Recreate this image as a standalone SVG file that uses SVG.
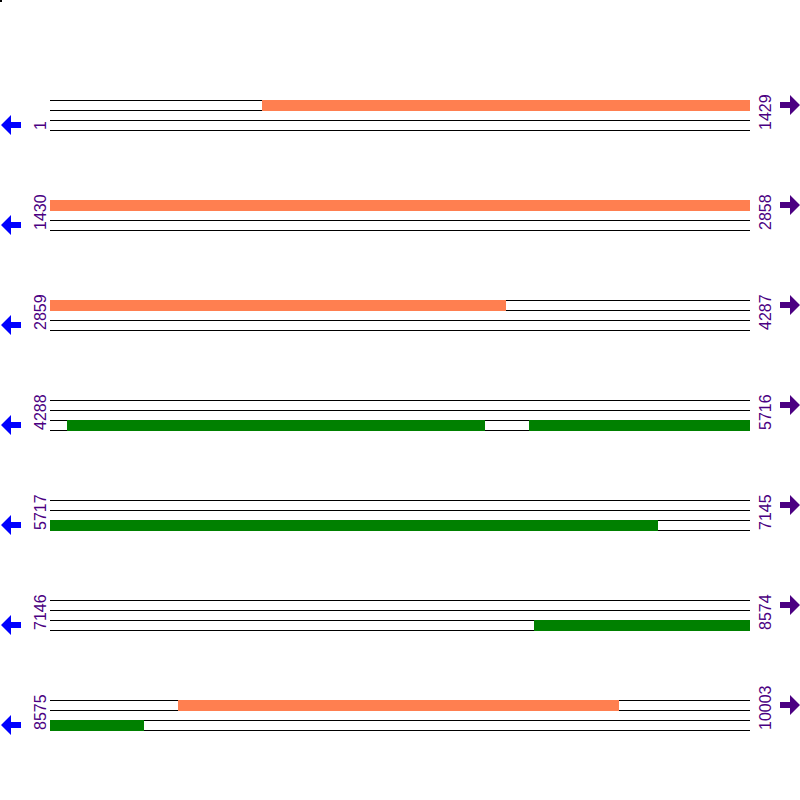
<svg xmlns="http://www.w3.org/2000/svg" width="800" height="800" viewBox="0 0 800 800">
<defs>
<style>
.ln{stroke:#000;stroke-width:1;fill:none}
.or{fill:#FF7F50}
.gr{fill:#008000}
.la{fill:#0000FF}
.ra{fill:#4B0082}
.lb{font-family:"Liberation Sans",Arial,sans-serif;font-size:16px;fill:#4B0082}
</style>
<g id="rowlines">
<line class="ln" x1="50" y1="100.5" x2="750" y2="100.5"/>
<line class="ln" x1="50" y1="110.5" x2="750" y2="110.5"/>
<line class="ln" x1="50" y1="120.5" x2="750" y2="120.5"/>
<line class="ln" x1="50" y1="130.5" x2="750" y2="130.5"/>
</g>
<polygon id="larrow" points="1,125 11,115 11,122 21,122 21,128 11,128 11,135"/>
<polygon id="rarrow" points="780,102 790,102 790,95 800,105 790,115 790,108 780,108"/>
</defs>
<rect width="800" height="800" fill="#fff"/>
<rect x="0" y="0" width="2" height="2" fill="#000"/>
<g id="connectors">
<use href="#rowlines" y="0"/>
<use href="#rowlines" y="100"/>
<use href="#rowlines" y="200"/>
<use href="#rowlines" y="300"/>
<use href="#rowlines" y="400"/>
<use href="#rowlines" y="500"/>
<use href="#rowlines" y="600"/>
</g>
<g id="row1">
<rect class="or" x="262" y="100" width="488" height="11"/>
<use href="#larrow" class="la" y="0"/>
<use href="#rarrow" class="ra" y="0"/>
<text class="lb" transform="translate(46,130) rotate(-90)">1</text>
<text class="lb" transform="translate(771,130) rotate(-90)">1429</text>
</g>
<g id="row2">
<rect class="or" x="50" y="200" width="700" height="11"/>
<use href="#larrow" class="la" y="100"/>
<use href="#rarrow" class="ra" y="100"/>
<text class="lb" transform="translate(46,230) rotate(-90)">1430</text>
<text class="lb" transform="translate(771,230) rotate(-90)">2858</text>
</g>
<g id="row3">
<rect class="or" x="50" y="300" width="456" height="11"/>
<use href="#larrow" class="la" y="200"/>
<use href="#rarrow" class="ra" y="200"/>
<text class="lb" transform="translate(46,330) rotate(-90)">2859</text>
<text class="lb" transform="translate(771,330) rotate(-90)">4287</text>
</g>
<g id="row4">
<rect class="gr" x="67" y="420" width="418" height="11"/>
<rect class="gr" x="529" y="420" width="221" height="11"/>
<use href="#larrow" class="la" y="300"/>
<use href="#rarrow" class="ra" y="300"/>
<text class="lb" transform="translate(46,430) rotate(-90)">4288</text>
<text class="lb" transform="translate(771,430) rotate(-90)">5716</text>
</g>
<g id="row5">
<rect class="gr" x="50" y="520" width="608" height="11"/>
<use href="#larrow" class="la" y="400"/>
<use href="#rarrow" class="ra" y="400"/>
<text class="lb" transform="translate(46,530) rotate(-90)">5717</text>
<text class="lb" transform="translate(771,530) rotate(-90)">7145</text>
</g>
<g id="row6">
<rect class="gr" x="534" y="620" width="216" height="11"/>
<use href="#larrow" class="la" y="500"/>
<use href="#rarrow" class="ra" y="500"/>
<text class="lb" transform="translate(46,630) rotate(-90)">7146</text>
<text class="lb" transform="translate(771,630) rotate(-90)">8574</text>
</g>
<g id="row7">
<rect class="or" x="178" y="700" width="441" height="11"/>
<rect class="gr" x="50" y="720" width="94" height="11"/>
<use href="#larrow" class="la" y="600"/>
<use href="#rarrow" class="ra" y="600"/>
<text class="lb" transform="translate(46,730) rotate(-90)">8575</text>
<text class="lb" transform="translate(771,730) rotate(-90)">10003</text>
</g>
</svg>
